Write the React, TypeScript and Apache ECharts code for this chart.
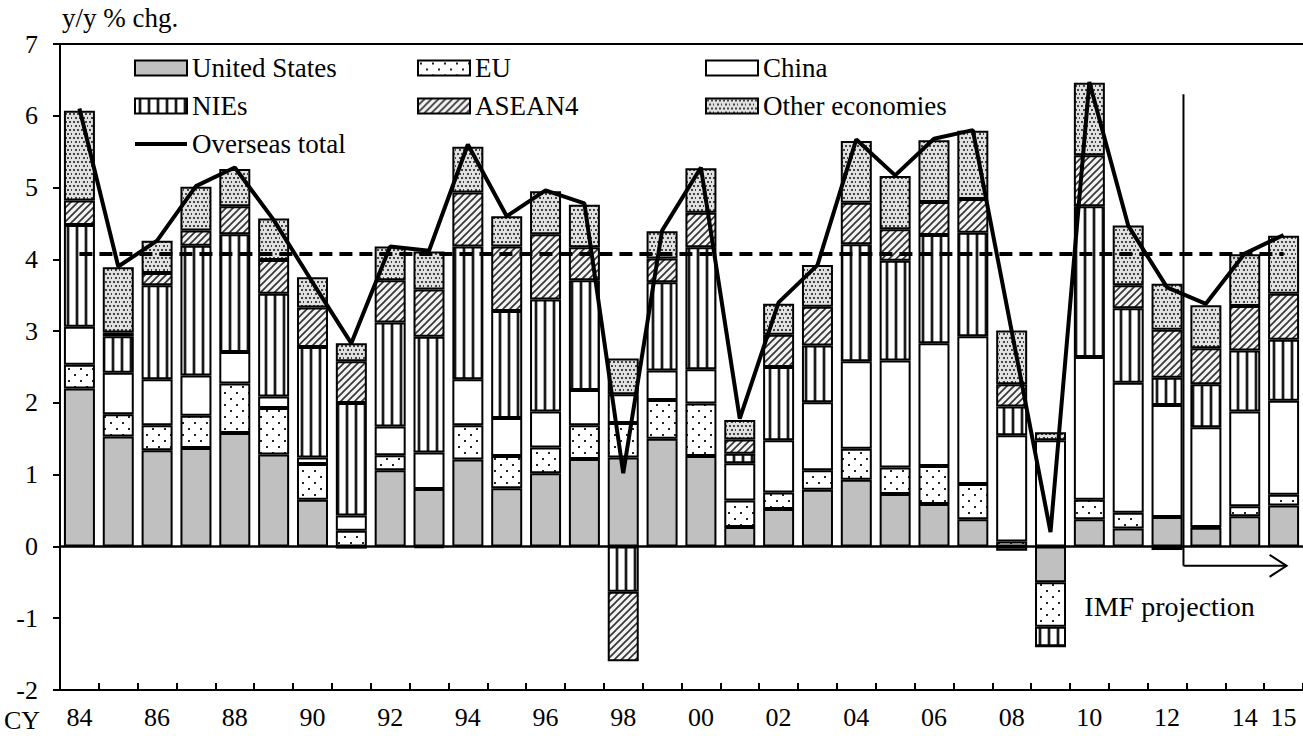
import React, { useEffect, useRef } from 'react';
import * as echarts from 'echarts';

const years = ['84','85','86','87','88','89','90','91','92','93','94','95','96','97','98','99','00','01','02','03','04','05','06','07','08','09','10','11','12','13','14','15'];
const shownYearLabels = ['84','86','88','90','92','94','96','98','00','02','04','06','08','10','12','14','15'];

const unitedStates = [2.20,1.53,1.34,1.37,1.58,1.28,0.65,-0.03,1.06,0.80,1.21,0.81,1.02,1.22,1.24,1.50,1.26,0.27,0.52,0.79,0.93,0.73,0.59,0.38,-0.06,-0.50,0.38,0.25,0.41,0.26,0.42,0.57];
const eu = [0.33,0.31,0.35,0.45,0.69,0.65,0.50,0.22,0.21,-0.02,0.48,0.45,0.36,0.47,0.48,0.54,0.73,0.37,0.23,0.27,0.43,0.37,0.53,0.49,0.07,-0.62,0.27,0.22,-0.05,0.01,0.14,0.15];
const china = [0.53,0.58,0.64,0.56,0.44,0.16,0.09,0.21,0.40,0.51,0.64,0.53,0.50,0.49,0.40,0.41,0.48,0.52,0.73,0.95,1.22,1.49,1.71,2.06,1.48,1.48,1.99,1.81,1.56,1.39,1.32,1.31];
const nies = [1.42,0.51,1.31,1.81,1.64,1.43,1.54,1.57,1.45,1.61,1.85,1.49,1.56,1.53,-0.63,1.23,1.70,0.13,1.02,0.79,1.63,1.39,1.51,1.44,0.40,-0.27,2.10,1.04,0.38,0.60,0.85,0.85];
const asean4 = [0.34,0.05,0.17,0.21,0.39,0.47,0.55,0.58,0.59,0.66,0.75,0.90,0.91,0.46,-0.97,0.33,0.48,0.20,0.45,0.54,0.58,0.44,0.46,0.47,0.31,0,0.71,0.32,0.67,0.50,0.62,0.64];
const otherEconomies = [1.25,0.91,0.45,0.61,0.52,0.58,0.42,0.25,0.47,0.53,0.64,0.42,0.60,0.59,0.50,0.38,0.62,0.27,0.43,0.58,0.86,0.74,0.86,0.95,0.75,0.11,1.01,0.83,0.64,0.60,0.72,0.81];
const overseasTotal = [6.10,3.90,4.26,5.02,5.28,4.55,3.68,2.83,4.18,4.12,5.60,4.60,4.96,4.78,1.02,4.40,5.28,1.78,3.40,3.92,5.67,5.17,5.68,5.80,3.00,0.20,6.47,4.47,3.61,3.38,4.08,4.34];
const averageGrowth = 4.08;

const projectionFirstYear = '13';
const projectionLineTop = 6.3;
const projectionArrowY = -0.27;
const projectionLabelY = -0.83;
const projectionLabel = 'IMF projection';

const FONT = 'Liberation Serif, Times New Roman, serif';

function makePattern(w: number, h: number, bg: string, draw: (ctx: CanvasRenderingContext2D) => void) {
  const c = document.createElement('canvas');
  c.width = w;
  c.height = h;
  const ctx = c.getContext('2d') as CanvasRenderingContext2D;
  ctx.fillStyle = bg;
  ctx.fillRect(0, 0, w, h);
  draw(ctx);
  return { image: c, repeat: 'repeat', imageWidth: w, imageHeight: h };
}

export default function App() {
  const ref = useRef<HTMLDivElement>(null);

  useEffect(() => {
    if (!ref.current) return;
    const chart = echarts.init(ref.current, null, { renderer: 'svg' });

    const euFill = makePattern(12, 12, '#ffffff', (ctx) => {
      ctx.fillStyle = '#222';
      ctx.fillRect(2, 2, 2, 2);
      ctx.fillRect(8, 8, 2, 2);
    });
    const niesFill = makePattern(9, 4, '#ffffff', (ctx) => {
      ctx.fillStyle = '#aaa';
      ctx.fillRect(3, 0, 1, 4);
      ctx.fillRect(6, 0, 1, 4);
      ctx.fillStyle = '#1a1a1a';
      ctx.fillRect(4, 0, 2, 4);
    });
    const aseanFill = makePattern(7, 7, '#f2f2f2', (ctx) => {
      ctx.strokeStyle = '#333';
      ctx.lineWidth = 1.6;
      ctx.beginPath();
      ctx.moveTo(0, 7); ctx.lineTo(7, 0);
      ctx.moveTo(-3.5, 3.5); ctx.lineTo(3.5, -3.5);
      ctx.moveTo(3.5, 10.5); ctx.lineTo(10.5, 3.5);
      ctx.stroke();
    });
    const otherFill = makePattern(8, 8, '#e0e0e0', (ctx) => {
      ctx.fillStyle = '#444';
      [[1, 1], [5, 1], [3, 5], [7, 5]].forEach(([x, y]) => ctx.fillRect(x, y, 2, 2));
    });

    const barDefs: [string, number[], any][] = [
      ['United States', unitedStates, '#c0c0c0'],
      ['EU', eu, euFill],
      ['China', china, '#ffffff'],
      ['NIEs', nies, niesFill],
      ['ASEAN4', asean4, aseanFill],
      ['Other economies', otherEconomies, otherFill],
    ];

    const barSeries = barDefs.map(([name, data, color]) => ({
      name,
      type: 'bar',
      stack: 'total',
      data,
      barWidth: 31,
      itemStyle: { color, borderColor: '#000', borderWidth: 2 },
      z: 2,
    }));

    const legendCommon = {
      orient: 'vertical',
      itemWidth: 52,
      itemHeight: 15,
      itemGap: 10,
      selectedMode: false,
      textStyle: { fontFamily: FONT, fontSize: 27, color: '#000', lineHeight: 28 },
    };

    const option: any = {
      animation: false,
      backgroundColor: '#ffffff',
      textStyle: { fontFamily: FONT },
      grid: { left: 60, top: 44, width: 1247, bottom: 46, containLabel: false },
      legend: [
        {
          ...legendCommon, left: 128, top: 49,
          data: [
            { name: 'United States', icon: 'rect' },
            { name: 'NIEs', icon: 'rect' },
            { name: 'Overseas total', itemStyle: { opacity: 0 }, lineStyle: { width: 4, color: '#000' } },
          ],
        },
        { ...legendCommon, left: 412, top: 49, data: [{ name: 'EU', icon: 'rect' }, { name: 'ASEAN4', icon: 'rect' }] },
        { ...legendCommon, left: 700, top: 49, data: [{ name: 'China', icon: 'rect' }, { name: 'Other economies', icon: 'rect' }] },
      ],
      xAxis: [
        {
          type: 'category',
          data: years,
          position: 'bottom',
          boundaryGap: true,
          axisLine: { onZero: false, lineStyle: { color: '#000', width: 2 } },
          axisTick: { show: true, inside: true, length: 7, interval: 0, lineStyle: { color: '#000', width: 2 } },
          axisLabel: {
            interval: (_i: number, v: string) => shownYearLabels.includes(v),
            fontFamily: FONT,
            fontSize: 26,
            color: '#000',
            margin: 14,
          },
          splitLine: { show: false },
        },
        {
          type: 'category',
          data: years,
          position: 'top',
          axisLine: { show: true, onZero: false, lineStyle: { color: '#000', width: 2 } },
          axisTick: { show: false },
          axisLabel: { show: false },
          splitLine: { show: false },
        },
      ],
      yAxis: {
        type: 'value',
        min: -2,
        max: 7,
        interval: 1,
        axisLine: { show: true, lineStyle: { color: '#000', width: 2 } },
        axisTick: { show: true, length: 7, lineStyle: { color: '#000', width: 2 } },
        splitLine: { show: false },
        axisLabel: { fontFamily: FONT, fontSize: 26, color: '#000', margin: 22 },
      },
      series: [
        ...barSeries,
        {
          name: 'Overseas total',
          type: 'line',
          data: overseasTotal,
          symbol: 'none',
          lineStyle: { color: '#000', width: 4 },
          itemStyle: { color: '#000' },
          z: 6,
          markLine: {
            silent: true,
            symbol: 'none',
            label: { show: false },
            z: 5,
            data: [
              { yAxis: 0, lineStyle: { color: '#000', width: 2.5, type: 'solid' } },
              [
                { coord: [years[0], averageGrowth], lineStyle: { color: '#000', width: 4, type: [13, 7] } },
                { coord: [years[years.length - 1], averageGrowth] },
              ],
            ],
          },
        },
      ],
    };

    chart.setOption(option);

    const startIdx = years.indexOf(projectionFirstYear);
    const pPrev = chart.convertToPixel({ gridIndex: 0 }, [startIdx - 1, projectionLineTop]) as number[];
    const pStart = chart.convertToPixel({ gridIndex: 0 }, [startIdx, projectionArrowY]) as number[];
    const pEnd = chart.convertToPixel({ gridIndex: 0 }, [years.length - 1, projectionArrowY]) as number[];
    const pLabel = chart.convertToPixel({ gridIndex: 0 }, [startIdx - 3, projectionLabelY]) as number[];
    const xv = (pPrev[0] + pStart[0]) / 2 - 3;
    const ay = pStart[1];
    const ex = pEnd[0] + 3;

    chart.setOption({
      graphic: [
        { type: 'text', left: 62, top: 4, style: { text: 'y/y % chg.', fill: '#000', fontSize: 27, fontFamily: FONT } },
        { type: 'text', left: 4, top: 707, style: { text: 'CY', fill: '#000', fontSize: 26, fontFamily: FONT } },
        { type: 'line', shape: { x1: xv, y1: pPrev[1], x2: xv, y2: ay }, style: { stroke: '#000', lineWidth: 2 }, z: 10 },
        { type: 'line', shape: { x1: xv, y1: ay, x2: ex, y2: ay }, style: { stroke: '#000', lineWidth: 2 }, z: 10 },
        { type: 'polyline', shape: { points: [[ex - 17, ay - 11], [ex, ay], [ex - 17, ay + 11]] }, style: { stroke: '#000', lineWidth: 2, fill: 'none' }, z: 10 },
        { type: 'text', x: pLabel[0] - 5, y: pLabel[1], style: { text: projectionLabel, fill: '#000', fontSize: 28, fontFamily: FONT, verticalAlign: 'middle', align: 'left' }, z: 10 },
      ],
    });

    return () => chart.dispose();
  }, []);

  return <div ref={ref} style={{ position: 'absolute', left: 0, top: 0, width: 1303, height: 736 }} />;
}
